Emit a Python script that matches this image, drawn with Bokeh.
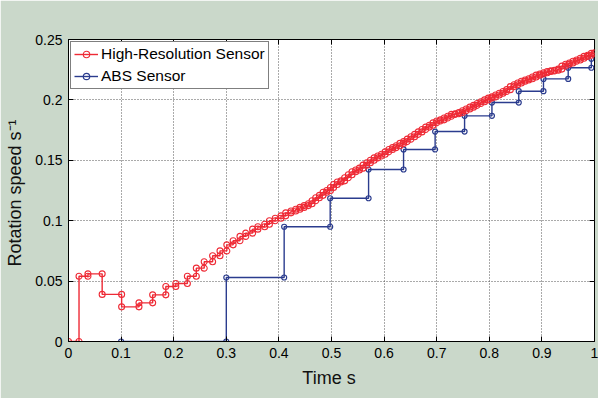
from bokeh.plotting import figure
from bokeh.models import LinearAxis, FixedTicker, Range1d
from bokeh.embed import file_html
from bokeh.resources import INLINE

# ---- data ----
red_t = [0.000, 0.020, 0.037, 0.064, 0.101, 0.134, 0.160, 0.185, 0.204, 0.226,
         0.243, 0.258, 0.274, 0.288, 0.301, 0.313, 0.326, 0.337, 0.350, 0.360,
         0.373, 0.382, 0.393, 0.404, 0.413, 0.423, 0.432, 0.440, 0.448, 0.456,
         0.463, 0.470, 0.477, 0.484, 0.491, 0.498, 0.504, 0.511, 0.518, 0.525,
         0.532, 0.539, 0.546, 0.553, 0.560, 0.567, 0.574, 0.581, 0.588, 0.595,
         0.602, 0.609, 0.616, 0.623, 0.630, 0.637, 0.644, 0.651, 0.658, 0.665,
         0.672, 0.679, 0.686, 0.693, 0.700, 0.707, 0.714, 0.721, 0.728, 0.735,
         0.742, 0.749, 0.756, 0.763, 0.770, 0.777, 0.784, 0.791, 0.798, 0.805,
         0.812, 0.819, 0.826, 0.833, 0.840, 0.847, 0.854, 0.861, 0.868, 0.875,
         0.882, 0.889, 0.896, 0.903, 0.910, 0.917, 0.924, 0.931, 0.938, 0.945,
         0.952, 0.959, 0.966, 0.973, 0.980, 0.987, 0.994, 1.000]
red_v = [0.0000, 0.0540, 0.0560, 0.0390, 0.0287, 0.0320, 0.0386, 0.0455, 0.0480, 0.0540,
         0.0607, 0.0660, 0.0710, 0.0750, 0.0800, 0.0834, 0.0870, 0.0897, 0.0930, 0.0950,
         0.0970, 0.1000, 0.1020, 0.1040, 0.1065, 0.1080, 0.1095, 0.1110, 0.1125, 0.1140,
         0.1165, 0.1190, 0.1210, 0.1235, 0.1250, 0.1275, 0.1300, 0.1320, 0.1330, 0.1355,
         0.1380, 0.1405, 0.1420, 0.1435, 0.1460, 0.1480, 0.1500, 0.1520, 0.1535, 0.1550,
         0.1570, 0.1590, 0.1605, 0.1620, 0.1640, 0.1655, 0.1675, 0.1695, 0.1715, 0.1735,
         0.1755, 0.1775, 0.1790, 0.1810, 0.1825, 0.1835, 0.1850, 0.1865, 0.1880, 0.1885,
         0.1895, 0.1910, 0.1925, 0.1940, 0.1955, 0.1970, 0.1985, 0.2000, 0.2015, 0.2025,
         0.2040, 0.2055, 0.2070, 0.2085, 0.2110, 0.2125, 0.2140, 0.2155, 0.2165, 0.2175,
         0.2190, 0.2205, 0.2215, 0.2225, 0.2235, 0.2240, 0.2245, 0.2255, 0.2280, 0.2295,
         0.2305, 0.2320, 0.2330, 0.2345, 0.2360, 0.2370, 0.2385, 0.2390]

blue_t = [0.100, 0.300, 0.410, 0.4975, 0.5705, 0.637, 0.697, 0.753, 0.805, 0.856,
          0.903, 0.950, 0.994]
blue_v = [0.0000, 0.0530, 0.0950, 0.1186, 0.1424, 0.1590, 0.1738, 0.1868, 0.1978, 0.2072,
          0.2174, 0.2266, 0.2340]

x_ticks = [0, 0.1, 0.2, 0.3, 0.4, 0.5, 0.6, 0.7, 0.8, 0.9, 1.0]
x_tick_labels = ["0", "0.1", "0.2", "0.3", "0.4", "0.5", "0.6", "0.7", "0.8", "0.9", "1"]
y_ticks = [0, 0.05, 0.1, 0.15, 0.2, 0.25]
y_tick_labels = ["0", "0.05", "0.1", "0.15", "0.2", "0.25"]

red_name = "High-Resolution Sensor"
blue_name = "ABS Sensor"
x_title = "Time  s"
y_title = "Rotation speed  s\u207b\u00b9"


def stairs(t, v):
    xs, ys = [t[0]], [v[0]]
    for i in range(1, len(t)):
        xs += [t[i], t[i]]
        ys += [v[i - 1], v[i]]
    return xs, ys


FONT = "Liberation Sans"
RED = "#ee2a35"
BLUE = "#2b3c8e"
BG = "#cad8ca"

p = figure(width=598, height=398, output_backend="svg", toolbar_location=None,
           x_range=Range1d(0, 1), y_range=Range1d(0, 0.25),
           min_border_left=68, min_border_right=4, min_border_top=39, min_border_bottom=57)
p.background_fill_color = "white"
p.border_fill_color = BG
p.outline_line_color = "black"
p.outline_line_width = 1

rx, ry = stairs(red_t, red_v)
bx, by = stairs(blue_t, blue_v)

p.line(bx, by, line_color=BLUE, line_width=1.4, legend_label=blue_name)
p.scatter(bx, by, marker="circle", size=5, line_color=BLUE, fill_color=None,
          line_width=1.2, legend_label=blue_name)
p.line(rx, ry, line_color=RED, line_width=1.4, legend_label=red_name)
p.scatter(rx, ry, marker="circle", size=6, line_color=RED, fill_color=None,
          line_width=1.1, legend_label=red_name)

xt = FixedTicker(ticks=x_ticks)
yt = FixedTicker(ticks=y_ticks)
xo = {t: s for t, s in zip(x_ticks, x_tick_labels)}
yo = {t: s for t, s in zip(y_ticks, y_tick_labels)}

for ax, tk, ov in ((p.xaxis[0], xt, xo), (p.yaxis[0], yt, yo)):
    ax.ticker = tk
    ax.major_label_overrides = ov
    ax.major_tick_in = 5
    ax.major_tick_out = 0
    ax.minor_tick_line_color = None
    ax.axis_line_color = "black"
    ax.major_tick_line_color = "black"
    ax.major_label_text_font = FONT
    ax.major_label_text_font_size = "14px"
    ax.major_label_text_color = "black"
    ax.major_label_standoff = 6
    ax.axis_label_text_font = FONT
    ax.axis_label_text_font_size = "18px"
    ax.axis_label_text_font_style = "normal"
    ax.axis_label_text_color = "#111111"

p.xaxis[0].axis_label = x_title
p.xaxis[0].axis_label_standoff = 7
p.yaxis[0].axis_label = y_title
p.yaxis[0].axis_label_standoff = 7

# tick marks (inside) on the top and right edges, without labels
for loc, tk in (("above", x_ticks), ("right", y_ticks)):
    ax = LinearAxis(ticker=FixedTicker(ticks=tk), major_tick_in=5, major_tick_out=0,
                    minor_tick_line_color=None, axis_line_color=None,
                    major_label_text_color=None, major_label_text_font_size="1px",
                    major_label_standoff=0)
    p.add_layout(ax, loc)

for g in (p.xgrid[0], p.ygrid[0]):
    g.grid_line_color = "#555555"
    g.grid_line_dash = "1 2"
    g.grid_line_width = 1

lg = p.legend[0]
lg.items = [lg.items[1], lg.items[0]]
lg.location = "top_left"
lg.margin = 2
lg.padding = 3
lg.spacing = 4
lg.glyph_width = 24
lg.glyph_height = 16
lg.label_height = 16
lg.label_standoff = 3
lg.label_text_font = FONT
lg.label_text_font_size = "15.5px"
lg.label_text_color = "black"
lg.border_line_color = "black"
lg.border_line_width = 1
lg.background_fill_color = "white"
lg.background_fill_alpha = 1

open("out.html", "w").write(file_html(p, INLINE))
